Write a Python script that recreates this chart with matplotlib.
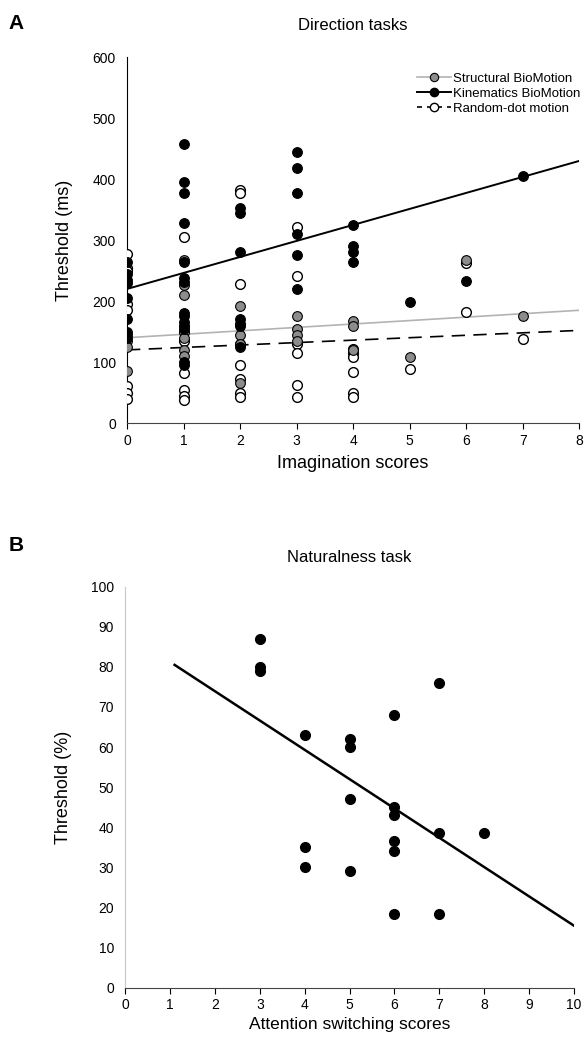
import numpy as np
import matplotlib.pyplot as plt
from matplotlib.lines import Line2D

plt.rcParams['font.family'] = ['Liberation Sans', 'DejaVu Sans']

# Panel A: direction tasks (imagination score -> threshold, ms)
struct_x = [0, 0, 0, 0, 1, 1, 1, 1, 1, 1, 2, 2, 2, 2, 3, 3, 3, 3, 4, 4, 4, 5, 6, 7]
struct_y = [145, 135, 125, 85, 268, 226, 210, 140, 120, 110, 192, 145, 130, 65,
            175, 155, 145, 135, 168, 160, 120, 108, 268, 175]
kin_x = [0, 0, 0, 0, 0, 0, 0, 0, 1, 1, 1, 1, 1, 1, 1, 1, 1, 1, 1, 1, 1,
         2, 2, 2, 2, 2, 2, 3, 3, 3, 3, 3, 3, 4, 4, 4, 4, 5, 6, 7]
kin_y = [265, 245, 235, 230, 205, 170, 150, 140, 458, 395, 377, 328, 265, 238,
         232, 180, 175, 165, 155, 100, 95, 352, 345, 280, 170, 160, 125,
         445, 418, 378, 310, 275, 220, 325, 290, 280, 265, 198, 233, 405]
rdm_x = [0, 0, 0, 0, 0, 0, 0, 0, 1, 1, 1, 1, 1, 1, 1, 1,
         2, 2, 2, 2, 2, 2, 2, 2, 2, 3, 3, 3, 3, 3, 3, 4, 4, 4, 4, 4, 4, 5, 6, 6, 7]
rdm_y = [277, 255, 250, 195, 185, 60, 50, 40, 305, 160, 150, 135, 82, 55, 45, 38,
         383, 378, 228, 163, 130, 95, 72, 50, 42, 322, 242, 130, 115, 62, 42,
         122, 115, 108, 83, 50, 42, 88, 262, 183, 138]
trend_x = [0, 8]
struct_trend = [140, 185]
kin_trend = [220, 430]
rdm_trend = [120, 152]

# Panel B: naturalness task (attention switching -> threshold, %)
nat_x = [3, 3, 3, 4, 4, 4, 5, 5, 5, 5, 6, 6, 6, 6, 6, 6, 7, 7, 7, 8]
nat_y = [87, 80, 79, 63, 35, 30, 62, 60, 47, 29, 68, 45, 43, 36.5, 34, 18.5,
         76, 38.5, 18.5, 38.5]
nat_trend_x = [1.1, 10]
nat_trend_y = [80.5, 15.5]

fig = plt.figure(figsize=(5.88, 10.42), dpi=100)

# ---- panel A
ax = fig.add_axes([0.216, 0.594, 0.769, 0.351])
ms = 7
ax.plot(trend_x, struct_trend, color='#b3b3b3', lw=1.2, zorder=2)
ax.plot(trend_x, kin_trend, color='black', lw=1.4, zorder=2)
ax.plot(trend_x, rdm_trend, color='black', lw=1.2, ls=(0, (8, 5)), zorder=2)
ax.plot(rdm_x, rdm_y, 'o', ms=ms, mfc='white', mec='black', mew=1.0, zorder=3)
ax.plot(struct_x, struct_y, 'o', ms=ms, mfc='#8c8c8c', mec='black', mew=0.8, zorder=4)
ax.plot(kin_x, kin_y, 'o', ms=ms, mfc='black', mec='black', mew=0.8, zorder=5)

ax.set_xlim(0, 8)
ax.set_ylim(0, 600)
ax.set_xticks(range(0, 9))
ax.set_yticks(range(0, 601, 100))
for s in ['top', 'right']:
    ax.spines[s].set_visible(False)
ax.spines['left'].set_color('black')
ax.spines['bottom'].set_color('#444444')
ax.tick_params(axis='y', length=0, labelsize=10, pad=8)
ax.tick_params(axis='x', length=4, labelsize=10, direction='out', pad=4)
ax.set_xlabel('Imagination scores', fontsize=13, labelpad=5)
ax.set_ylabel('Threshold (ms)', fontsize=13, labelpad=14)
ax.set_title('Direction tasks', fontsize=12, pad=20)

handles = [
    Line2D([0], [0], color='#b3b3b3', lw=1.2, marker='o', ms=6, mfc='#8c8c8c', mec='black', mew=0.8),
    Line2D([0], [0], color='black', lw=1.4, marker='o', ms=6, mfc='black', mec='black'),
    Line2D([0], [0], color='black', lw=1.2, ls=(0, (3, 3)), marker='o', ms=6, mfc='white', mec='black'),
]
ax.legend(handles, ['Structural BioMotion', 'Kinematics BioMotion', 'Random-dot motion'],
          loc='upper right', bbox_to_anchor=(1.03, 0.99), frameon=False, fontsize=9.5,
          handlelength=2.6, handletextpad=0.2, labelspacing=0.2)

fig.text(0.015, 0.972, 'A', fontsize=15, fontweight='bold')

# ---- panel B
bx = fig.add_axes([0.213, 0.052, 0.763, 0.385])
bx.plot(nat_trend_x, nat_trend_y, color='black', lw=1.8, zorder=2)
bx.plot(nat_x, nat_y, 'o', ms=ms, mfc='black', mec='black', zorder=3)
bx.set_xlim(0, 10)
bx.set_ylim(0, 100)
bx.set_xticks(range(0, 11))
bx.set_yticks(range(0, 101, 10))
for s in ['top', 'right']:
    bx.spines[s].set_visible(False)
bx.spines['left'].set_color('#c8c8c8')
bx.spines['bottom'].set_color('#444444')
bx.tick_params(axis='y', length=0, labelsize=10, pad=8)
bx.tick_params(axis='x', length=4, labelsize=10, direction='out', pad=3)
bx.set_xlabel('Attention switching scores', fontsize=12.5, labelpad=4)
bx.set_ylabel('Threshold (%)', fontsize=13, labelpad=14)
bx.set_title('Naturalness task', fontsize=12, pad=18)

fig.text(0.015, 0.471, 'B', fontsize=15, fontweight='bold')

fig.savefig('out.png', dpi=100)
